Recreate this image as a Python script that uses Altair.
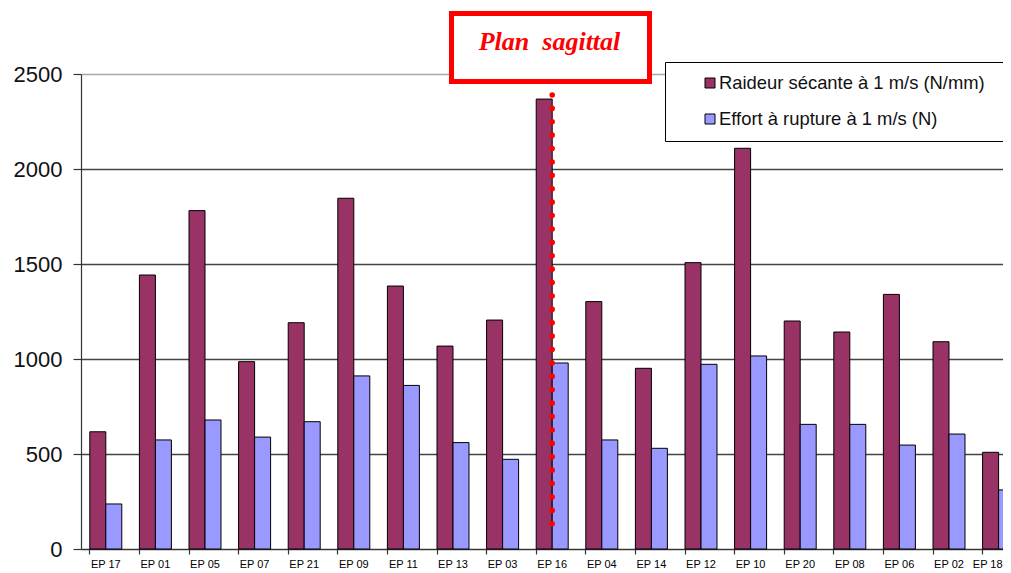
import altair as alt
import pandas as pd

categories = ["EP 17", "EP 01", "EP 05", "EP 07", "EP 21", "EP 09", "EP 11", "EP 13", "EP 03",
              "EP 16", "EP 04", "EP 14", "EP 12", "EP 10", "EP 20", "EP 08", "EP 06", "EP 02", "EP 18"]
raideur = [617, 1442, 1781, 986, 1191, 1846, 1384, 1068, 1205,
           2368, 1302, 951, 1507, 2109, 1200, 1142, 1340, 1091, 509]
effort = [237, 574, 679, 589, 670, 911, 861, 560, 472,
          979, 574, 530, 972, 1016, 656, 656, 547, 605, 311]
series_names = ["Raideur sécante à 1 m/s (N/mm)", "Effort à rupture à 1 m/s (N)"]
series_colors = ["#993366", "#9999FF"]
y_ticks = [0, 500, 1000, 1500, 2000, 2500]
annotation_text = "Plan\u00a0\u00a0sagittal"
annotation_category = "EP 16"
annotation_top = 2390
annotation_bottom = 68
last_category = categories[-1]

rows = []
for c, r, e in zip(categories, raideur, effort):
    rows.append({"cat": c, "serie": series_names[0], "val": r})
    rows.append({"cat": c, "serie": series_names[1], "val": e})
df = pd.DataFrame(rows)

STEP = 49.6
x_scale = alt.Scale(domain=categories, range=[0, STEP * len(categories)],
                    paddingInner=0.355, paddingOuter=0.1775)
y_scale = alt.Scale(domain=[0, 2500], nice=False)

last_test = "datum.value == '" + last_category + "'"
x_axis = alt.Axis(title=None, labelAngle=0, bandPosition=0, grid=False,
                  domainColor="#333333", domainWidth=1.2, tickColor="#333333", tickSize=5,
                  tickWidth=1.2,
                  labelFont="Liberation Sans", labelFontSize=11, labelColor="#000000",
                  labelPadding=4,
                  labelAlign={"condition": {"test": last_test, "value": "right"}, "value": "center"},
                  labelOffset={"condition": {"test": last_test, "value": 4}, "value": 0})
y_axis = alt.Axis(title=None, values=y_ticks, format="d", grid=True,
                  gridColor={"condition": {"test": "datum.value >= 2500", "value": "#a8a8a8"},
                             "value": "#444444"},
                  gridWidth=1.5, domainColor="#333333", domainWidth=1.2,
                  tickColor="#333333", tickSize=8, tickWidth=1.2,
                  labelFont="Liberation Sans", labelFontSize=22, labelColor="#111111",
                  labelPadding=11)

bars = alt.Chart(df).mark_bar(stroke="black", strokeWidth=1).encode(
    x=alt.X("cat:N", scale=x_scale, sort=categories, axis=x_axis),
    xOffset=alt.XOffset("serie:N", scale=alt.Scale(domain=series_names, paddingInner=0, paddingOuter=0),
                        sort=series_names),
    y=alt.Y("val:Q", scale=y_scale, axis=y_axis),
    color=alt.Color("serie:N", scale=alt.Scale(domain=series_names, range=series_colors), legend=None),
)

rule_df = pd.DataFrame({"cat": [annotation_category], "val": [annotation_top], "val2": [annotation_bottom]})
rule = alt.Chart(rule_df).mark_rule(color="#FF0000", strokeWidth=5.5, strokeDash=[0.1, 13.3],
                                    strokeCap="round").encode(
    x=alt.X("cat:N", scale=x_scale, sort=categories, title=None),
    y=alt.Y("val:Q", scale=y_scale, title=None),
    y2="val2:Q",
)

one = pd.DataFrame({"a": [0]})

legend_box = alt.Chart(one).mark_rect(fill="white", stroke="black", strokeWidth=1).encode(
    x=alt.value(584.5), x2=alt.value(980), y=alt.value(-11.5), y2=alt.value(67.5))

legend_layers = []
for i, (name, col) in enumerate(zip(series_names, series_colors)):
    ldf = pd.DataFrame({"label": [name]})
    sq = alt.Chart(ldf).mark_square(size=100, fill=col, stroke="black", strokeWidth=1,
                                    opacity=1).encode(
        x=alt.value(629), y=alt.value(9 + 36 * i))
    tx = alt.Chart(ldf).mark_text(align="left", baseline="middle", font="Liberation Sans",
                                  fontSize=18.4, color="#111111").encode(
        x=alt.value(638), y=alt.value(9 + 36 * i), text="label:N")
    legend_layers += [sq, tx]

ann_box = alt.Chart(one).mark_rect(fill="white", stroke="#FF0000", strokeWidth=5).encode(
    x=alt.value(370.5), x2=alt.value(568.5), y=alt.value(-60.5), y2=alt.value(7.5))
ann_text = alt.Chart(pd.DataFrame({"t": [annotation_text]})).mark_text(
    align="center", baseline="alphabetic", font="Liberation Serif", fontStyle="italic",
    fontWeight="bold", fontSize=26, color="#FF0000").encode(
    x=alt.value(468.5), y=alt.value(-24), text="t:N")

chart = alt.layer(bars, rule, legend_box, *legend_layers, ann_box, ann_text).properties(
    width=922, height=475,
    autosize=alt.AutoSizeParams(type="none"),
    padding={"left": 73, "top": 66, "right": 0, "bottom": 24},
    background="white",
).configure_view(stroke=None)

chart.save("out.html", embed_options={"renderer": "svg", "actions": False})
